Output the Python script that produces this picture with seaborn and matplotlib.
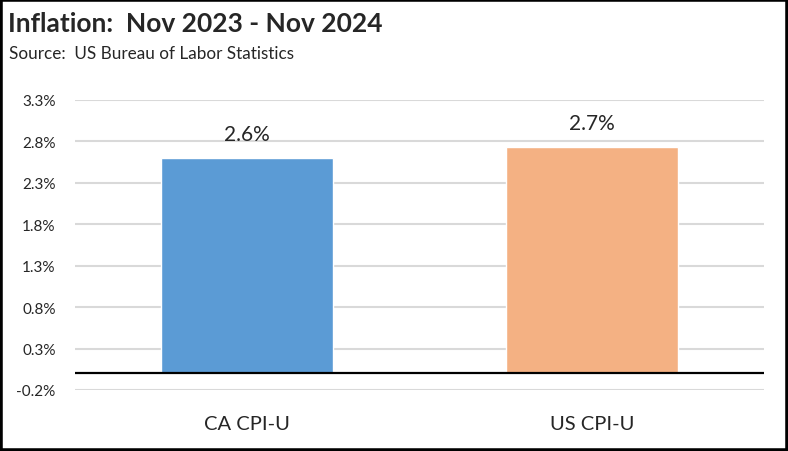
import matplotlib
matplotlib.use("Agg")
import matplotlib.pyplot as plt
import seaborn as sns
import pandas as pd
from matplotlib.patches import Rectangle

# dados
categorias = ["CA CPI-U", "US CPI-U"]
inflacao = [2.6, 2.73]
cores = ["#5B9BD5", "#F4B183"]
yticks = [-0.2, 0.3, 0.8, 1.3, 1.8, 2.3, 2.8, 3.3]

df = pd.DataFrame({"serie": categorias, "valor": inflacao})

sns.set_style("white")
plt.rcParams["font.family"] = ["Lato", "DejaVu Sans"]

fig = plt.figure(figsize=(7.88, 4.52), dpi=100)
ax = fig.add_axes([75 / 788, 1 - 391 / 452, (764 - 75) / 788, (391 - 101) / 452])

sns.barplot(data=df, x="serie", y="valor", hue="serie", palette=cores,
            width=0.5, legend=False, ax=ax, zorder=3, saturation=1)

ax.set_ylim(-0.2, 3.3)
ax.set_yticks(yticks)
ax.set_yticklabels([f"{t:.1f}%" for t in yticks], fontsize=11)
ax.yaxis.grid(True, color="#D9D9D9", lw=1.5, zorder=0)
ax.axhline(0, color="black", lw=1.6, zorder=4)
for s in ax.spines.values():
    s.set_visible(False)
ax.set_xlabel("")
ax.set_ylabel("")
ax.tick_params(axis="x", labelsize=14.5, pad=18, length=0)
ax.tick_params(axis="y", pad=14, length=0)

for i, v in enumerate(inflacao):
    ax.annotate(f"{v:.1f}%", (i, v), xytext=(0, 10), textcoords="offset points",
                ha="center", va="bottom", fontsize=15)

fig.text(8 / 788, 1 - 32 / 452, "Inflation:  Nov 2023 - Nov 2024",
         fontsize=19, fontweight="bold", va="baseline")
fig.text(9 / 788, 1 - 59 / 452, "Source:  US Bureau of Labor Statistics",
         fontsize=12.3, va="baseline")

fig.patches.append(Rectangle((0, 0), 1, 1, transform=fig.transFigure,
                             fill=False, edgecolor="black", lw=4))

fig.savefig("out.png", dpi=100)
